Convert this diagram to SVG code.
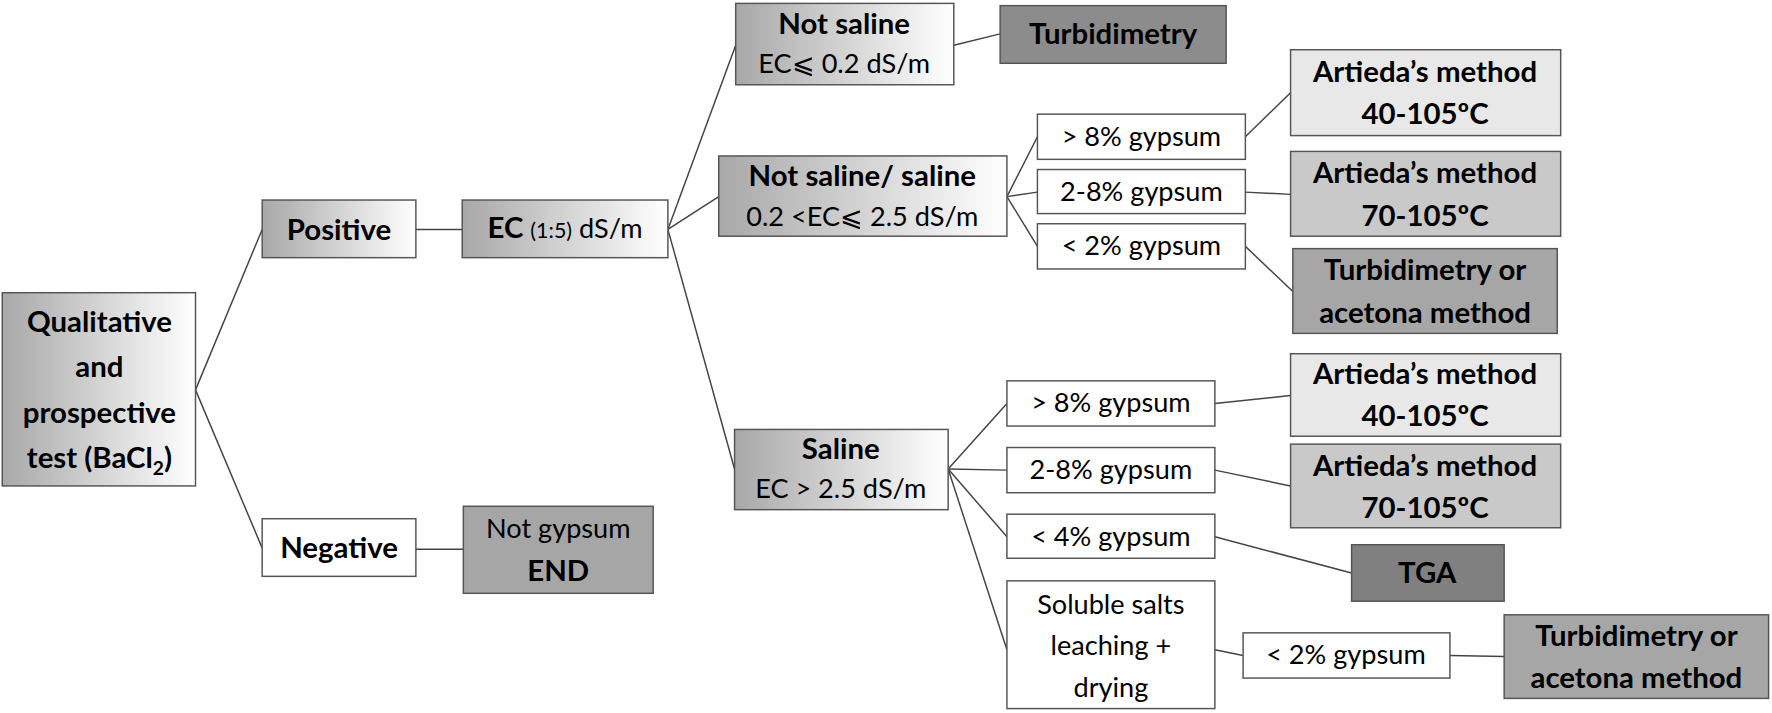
<svg xmlns="http://www.w3.org/2000/svg" width="1772" height="713" viewBox="0 0 1772 713">
<defs>
<linearGradient id="g" x1="0" y1="0" x2="1" y2="0"><stop offset="0" stop-color="#a8a8a8"/><stop offset="1" stop-color="#ffffff"/></linearGradient>
</defs>
<style>
.nd rect{stroke:#555;stroke-width:1.3}
.gr{fill:url(#g)}
.w{fill:#fff}
text{font-family:Lato,"Open Sans","Liberation Sans",sans-serif;text-anchor:middle;fill:#000}
.b{font-weight:bold;font-size:26px}
.n{font-size:24px}
#conn line{stroke:#444;stroke-width:1.3}
</style>
<rect width="1772" height="713" fill="#fff"/>
<g transform="scale(1.1301)">
<g id="conn">
<line x1="173" y1="345" x2="232" y2="203"/><line x1="173" y1="345" x2="232" y2="485"/>
<line x1="368" y1="203" x2="409" y2="203"/><line x1="368" y1="486" x2="410" y2="486"/>
<line x1="591" y1="203" x2="651" y2="40"/><line x1="591" y1="203" x2="636" y2="174"/><line x1="591" y1="203" x2="650" y2="415"/>
<line x1="844" y1="40" x2="885" y2="30"/>
<line x1="891" y1="174" x2="918" y2="121"/><line x1="891" y1="174" x2="918" y2="170"/><line x1="891" y1="174" x2="918" y2="218"/>
<line x1="1102" y1="121" x2="1142" y2="82"/><line x1="1102" y1="170" x2="1142" y2="172"/><line x1="1102" y1="218" x2="1144" y2="258"/>
<line x1="839" y1="415" x2="891" y2="357"/><line x1="839" y1="415" x2="891" y2="416"/><line x1="839" y1="415" x2="891" y2="475"/><line x1="839" y1="415" x2="891" y2="575"/>
<line x1="1075" y1="357" x2="1142" y2="350"/><line x1="1075" y1="416" x2="1142" y2="430"/><line x1="1075" y1="475" x2="1196" y2="507"/>
<line x1="1075" y1="575" x2="1100" y2="580"/><line x1="1283" y1="580" x2="1331" y2="581"/>
</g>
<g class="nd">
<g id="qual"><rect class="gr" x="2" y="259" width="171" height="171"/>
<text class="b" x="88" y="294">Qualitative</text><text class="b" x="88" y="334">and</text><text class="b" x="88" y="374">prospective</text><text class="b" x="88" y="414">test (BaCl<tspan font-size="17" dy="6">2</tspan><tspan dy="-6">)</tspan></text></g>
<g id="pos"><rect class="gr" x="232" y="177" width="136" height="51"/><text class="b" x="300" y="212">Positive</text></g>
<g id="ec"><rect class="gr" x="409" y="177" width="182" height="51"/><text class="n" x="500" y="211"><tspan class="b">EC</tspan> <tspan font-size="19">(1:5)</tspan> dS/m</text></g>
<g id="neg"><rect class="w" x="232" y="459" width="136" height="51"/><text class="b" x="300" y="494">Negative</text></g>
<g id="notgyp"><rect fill="#a6a6a6" x="410" y="448" width="168" height="77"/><text class="n" x="494" y="476">Not gypsum</text><text class="b" x="494" y="514">END</text></g>
<g id="notsal"><rect class="gr" x="651" y="3" width="193" height="72"/><text class="b" x="747" y="30">Not saline</text><text class="n" x="747" y="65">EC⩽ 0.2 dS/m</text></g>
<g id="turb1"><rect fill="#8c8c8c" x="885" y="5" width="200" height="51"/><text class="b" x="985" y="39">Turbidimetry</text></g>
<g id="nss"><rect class="gr" x="636" y="138" width="255" height="71"/><text class="b" x="763" y="165">Not saline/ saline</text><text class="n" x="763" y="200">0.2 &lt;EC⩽ 2.5 dS/m</text></g>
<g id="a1"><rect class="w" x="918" y="101" width="184" height="40"/><text class="n" x="1010" y="129">&gt; 8% gypsum</text></g>
<g id="a2"><rect class="w" x="918" y="150" width="184" height="39"/><text class="n" x="1010" y="178">2-8% gypsum</text></g>
<g id="a3"><rect class="w" x="918" y="198" width="184" height="40"/><text class="n" x="1010" y="226">&lt; 2% gypsum</text></g>
<g id="art1"><rect fill="#e8e8e8" x="1142" y="44" width="239" height="76"/><text class="b" x="1261" y="73">Artieda’s method</text><text class="b" x="1261" y="110">40-105ºC</text></g>
<g id="art2"><rect fill="#c9c9c9" x="1142" y="134" width="239" height="75"/><text class="b" x="1261" y="162">Artieda’s method</text><text class="b" x="1261" y="200">70-105ºC</text></g>
<g id="turb2"><rect fill="#a6a6a6" x="1144" y="220" width="234" height="75"/><text class="b" x="1261" y="248">Turbidimetry or</text><text class="b" x="1261" y="286">acetona method</text></g>
<g id="sal"><rect class="gr" x="650" y="380" width="189" height="71"/><text class="b" x="744" y="406">Saline</text><text class="n" x="744" y="441">EC &gt; 2.5 dS/m</text></g>
<g id="b1"><rect class="w" x="891" y="337" width="184" height="40"/><text class="n" x="983" y="365">&gt; 8% gypsum</text></g>
<g id="b2"><rect class="w" x="891" y="396" width="184" height="40"/><text class="n" x="983" y="424">2-8% gypsum</text></g>
<g id="b3"><rect class="w" x="891" y="455" width="184" height="39"/><text class="n" x="983" y="483">&lt; 4% gypsum</text></g>
<g id="sol"><rect class="w" x="891" y="514" width="184" height="113"/><text class="n" x="983" y="543">Soluble salts</text><text class="n" x="983" y="580">leaching +</text><text class="n" x="983" y="617">drying</text></g>
<g id="art3"><rect fill="#e8e8e8" x="1142" y="313" width="239" height="73"/><text class="b" x="1261" y="340">Artieda’s method</text><text class="b" x="1261" y="377">40-105ºC</text></g>
<g id="art4"><rect fill="#c9c9c9" x="1142" y="393" width="239" height="74"/><text class="b" x="1261" y="421">Artieda’s method</text><text class="b" x="1261" y="458">70-105ºC</text></g>
<g id="tga"><rect fill="#808080" x="1196" y="482" width="135" height="50"/><text class="b" x="1263" y="516">TGA</text></g>
<g id="c1"><rect class="w" x="1100" y="560" width="183" height="40"/><text class="n" x="1191" y="588">&lt; 2% gypsum</text></g>
<g id="turb3"><rect fill="#a6a6a6" x="1331" y="544" width="234" height="74"/><text class="b" x="1448" y="572">Turbidimetry or</text><text class="b" x="1448" y="609">acetona method</text></g>
</g>
</g>
</svg>
